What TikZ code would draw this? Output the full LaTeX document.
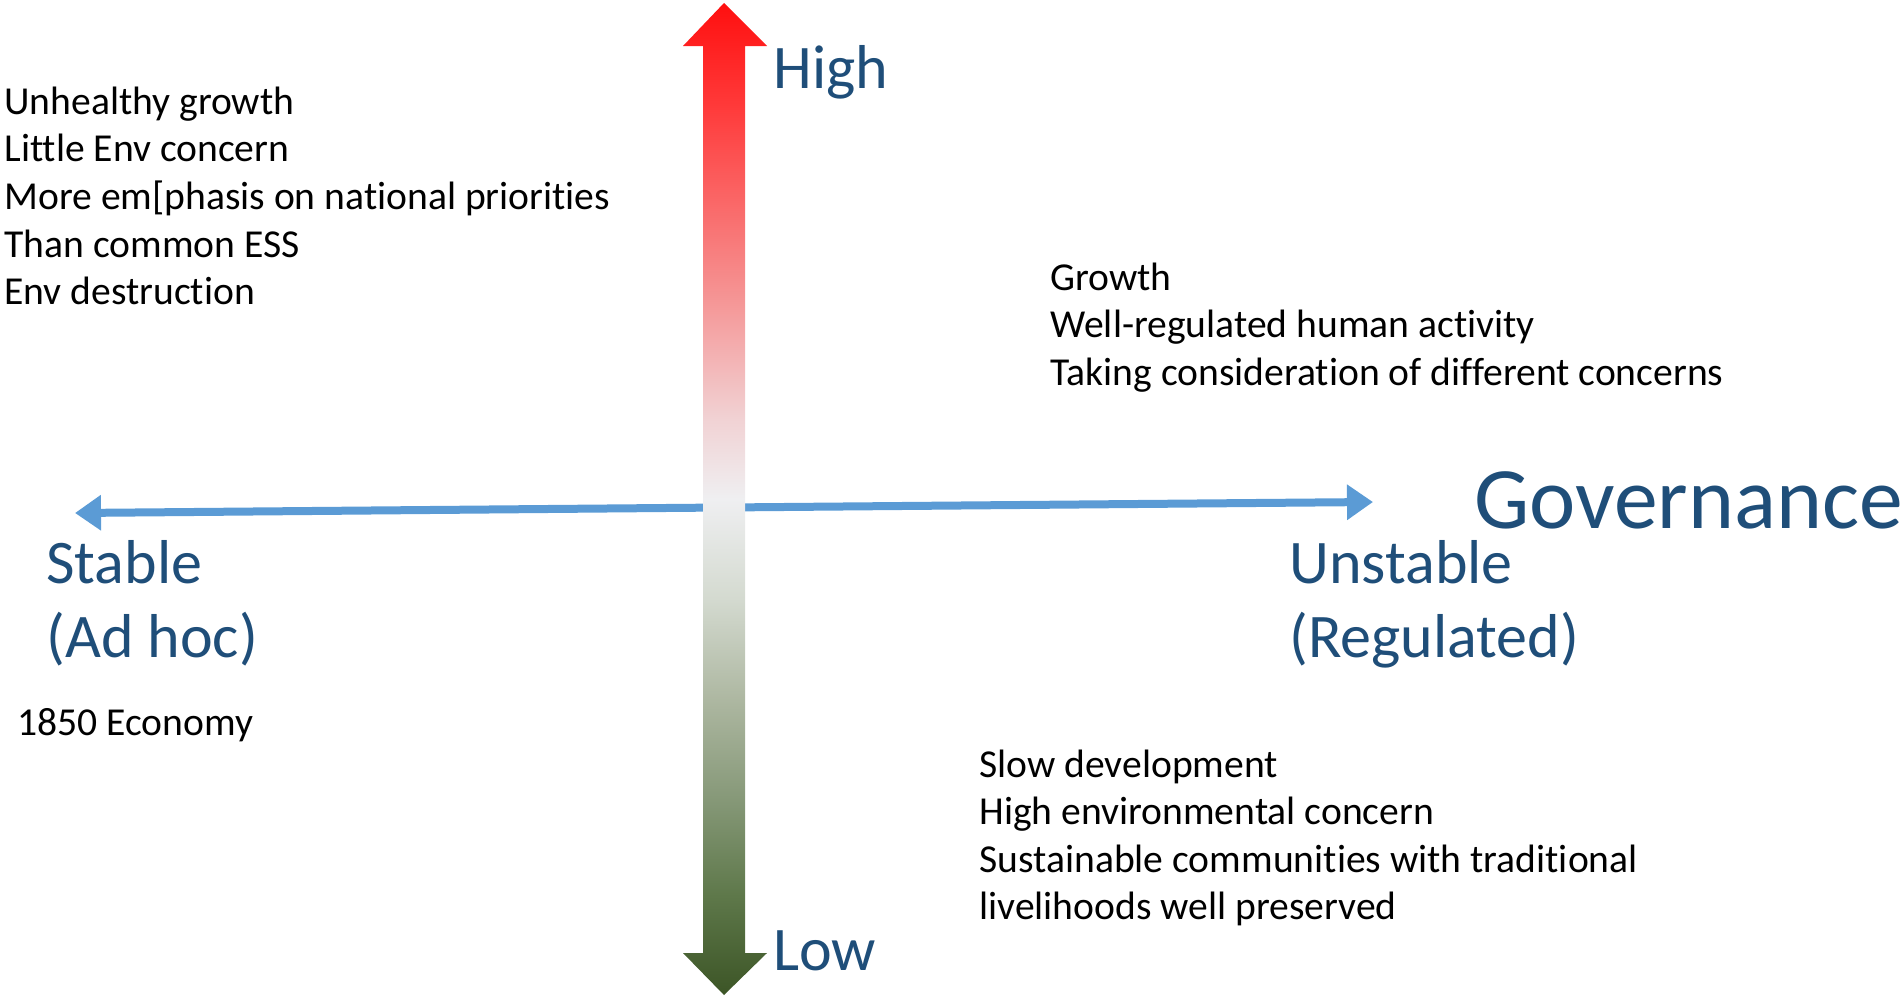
\documentclass[tikz,border=0pt]{standalone}
\usepackage{fontspec}
\setmainfont{Carlito}[Ligatures=NoCommon]
\usepackage{tikz}
\usetikzlibrary{arrows.meta,calc,positioning}
\definecolor{ink}{HTML}{000000}
\definecolor{headc}{HTML}{1F4E79}
\definecolor{axisc}{HTML}{5B9BD5}
\definecolor{hiA}{HTML}{FF0F0F}
\definecolor{hiB}{HTML}{FF3838}
\definecolor{hiC}{HTML}{F59696}
\definecolor{hiD}{HTML}{F1D2D4}
\definecolor{midc}{HTML}{EFEFF1}
\definecolor{loD}{HTML}{D4DAD0}
\definecolor{loC}{HTML}{AEB8A2}
\definecolor{loB}{HTML}{879979}
\definecolor{loA}{HTML}{5E784A}
\definecolor{loZ}{HTML}{3C5526}
\pgfdeclareverticalshading{highlow}{100bp}{%
  color(0bp)=(loZ); color(25bp)=(loZ); color(30bp)=(loA); color(35bp)=(loB);
  color(40bp)=(loC); color(45bp)=(loD); color(50bp)=(midc); color(54bp)=(hiD);
  color(60bp)=(hiC); color(70bp)=(hiB); color(75bp)=(hiA); color(100bp)=(hiA)}
\tikzset{
  lbl/.style={font=\fontsize{19.8}{24}\selectfont,text=ink,anchor=base west,inner sep=0pt},
  hlbl/.style={font=\fontsize{31}{37}\selectfont,text=headc,anchor=base west,inner sep=0pt},
  glbl/.style={font=\fontsize{43.8}{52}\selectfont,text=headc,anchor=base west,inner sep=0pt},
  axln/.style={axisc,line width=4pt,{Triangle[length=13pt,width=17pt]}-{Triangle[length=13pt,width=17pt]}},
}

\begin{document}
\begin{tikzpicture}[x=0.5pt,y=-0.5pt]
  \useasboundingbox (0,0) rectangle (1902,997);
  % ===================== governance axis =====================
  \coordinate (stab) at (75,513);
  \coordinate (unst) at (1373,502);
  \draw[axln] (stab) -- (unst);
  % ===================== high / low axis =====================
  \shade[shading=highlow] (703,46) -- (683,46) -- (724,3) -- (767,46) -- (745,46)
     -- (745,953) -- (767,953) -- (724,995) -- (683,953) -- (703,953) -- cycle;
  % ===================== axis labels =====================
  \node[hlbl] (high) at (773,88) {High};
  \node[hlbl] (low) at (773,970) {Low};
  \node[glbl] (gov) at (1474,528) {Governance};
  \node[hlbl] (stable) at (46,583) {Stable};
  \node[hlbl] (adhoc) at (46,657) {(Ad hoc)};
  \node[hlbl] (unstable) at (1289,583) {Unstable};
  \node[hlbl] (regul) at (1289,657) {(Regulated)};
  % ===================== quadrant notes =====================
  \foreach \t [count=\i] in {{Unhealthy growth},{Little Env concern},
      {More em[phasis on national priorities},{Than common ESS},{Env destruction}}
    \node[lbl] (tl\i) at (4,{114+47.7*(\i-1)}) {\t};
  \foreach \t [count=\i] in {{Growth},{Well-regulated human activity},
      {Taking consideration of different concerns}}
    \node[lbl] (tr\i) at (1050,{290+47.7*(\i-1)}) {\t};
  \foreach \t [count=\i] in {{Slow development},{High environmental concern},
      {Sustainable communities with traditional},{livelihoods well preserved}}
    \node[lbl] (br\i) at (979,{777+47.5*(\i-1)}) {\t};
  \node[lbl] (eco) at (17,735) {1850 Economy};
\end{tikzpicture}
\end{document}
